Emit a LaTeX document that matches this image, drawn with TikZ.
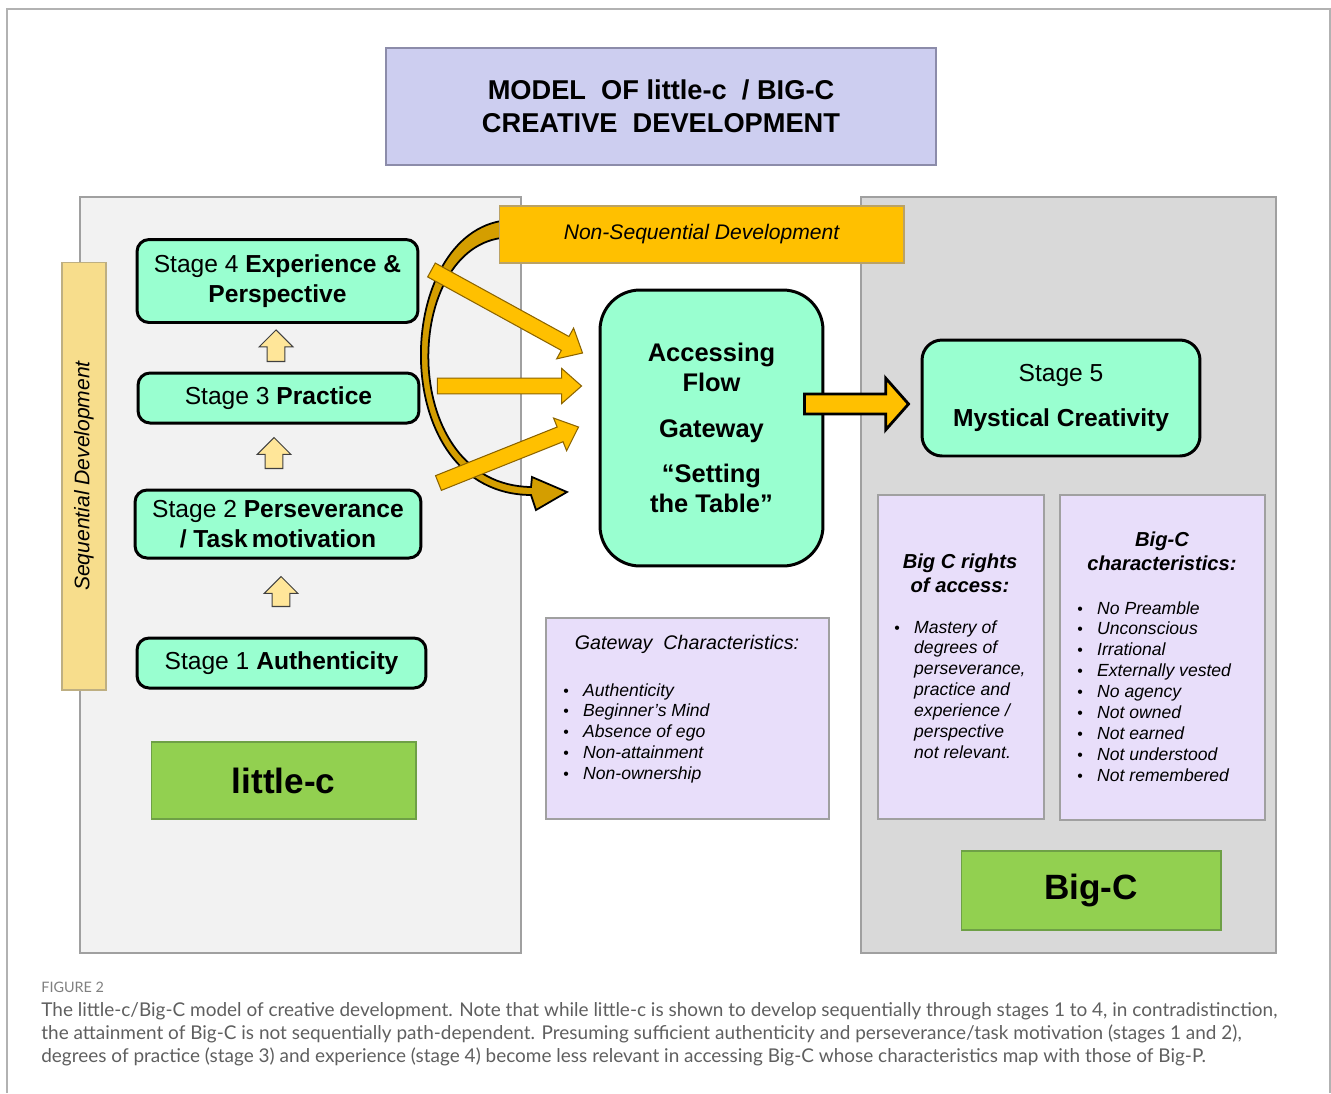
\documentclass[tikz,border=0pt]{standalone}
\usepackage{fontspec}
\setmainfont{Liberation Sans}
\newfontfamily\capfont{Lato}
\usetikzlibrary{calc}
\definecolor{mint}{RGB}{153,255,208}
\definecolor{gold}{RGB}{255,192,0}
\definecolor{goldedge}{RGB}{140,100,0}
\definecolor{darkgold}{RGB}{212,158,0}
\definecolor{paleyellow}{RGB}{255,230,153}
\definecolor{sand}{RGB}{247,221,140}
\definecolor{sandedge}{RGB}{190,175,130}
\definecolor{lilac}{RGB}{232,222,250}
\definecolor{periwinkle}{RGB}{205,206,240}
\definecolor{periedge}{RGB}{140,140,170}
\definecolor{leaf}{RGB}{146,208,80}
\definecolor{leafedge}{RGB}{110,160,70}
\definecolor{panellight}{RGB}{242,242,242}
\definecolor{paneldark}{RGB}{217,217,217}
\definecolor{edgegray}{RGB}{160,160,160}
\definecolor{framegray}{RGB}{178,178,178}
\definecolor{captiongray}{RGB}{95,95,95}

% block arrow: [style]{from}{to}{half shaft}{half head}{head length}
\newcommand{\blockarrow}[6][]{%
  \coordinate (hb) at ($(#3)!#6!(#2)$);
  \draw[#1] ($(#2)!#4!90:(#3)$) -- ($(hb)!#4!90:(#3)$) -- ($(hb)!#5!90:(#3)$) -- (#3)
    -- ($(hb)!#5!-90:(#3)$) -- ($(hb)!#4!-90:(#3)$) -- ($(#2)!#4!-90:(#3)$) -- cycle;}
\newcommand{\lbullet}{\makebox[11.3pt][l]{\upshape\small\textbullet}}

\begin{document}
\begin{tikzpicture}[x=0.02cm, y=-0.02cm, every node/.style={inner sep=0pt},
  panel/.style={draw=edgegray, line width=0.8pt},
  stagebox/.style={draw=black, line width=1.7pt, fill=mint, rounded corners=0.24cm, align=center, font=\fontsize{14}{17}\selectfont},
  infobox/.style={draw=edgegray, line width=0.7pt, fill=lilac},
  levelbox/.style={draw=leafedge, line width=0.6pt, fill=leaf, font=\fontsize{20}{24}\selectfont\bfseries},
  listtext/.style={anchor=base west, font=\fontsize{10}{11.9}\selectfont\itshape},
  headtext/.style={anchor=base, font=\fontsize{11.5}{14.2}\selectfont\bfseries\itshape},
  flowarrow/.style={draw=goldedge, fill=gold, line width=0.6pt, line join=miter},
  steparrow/.style={draw=black!75, fill=paleyellow, line width=0.6pt, line join=miter}]
\useasboundingbox (0,0) rectangle (1331,1093);
% frame
\draw[framegray, line width=1.2pt] (7,1093) -- (7,9) -- (1330,9) -- (1330,1093);

% panels
\node[panel, fill=panellight, minimum width=8.82cm, minimum height=15.12cm] (littlepanel) at (300.5,575) {};
\node[panel, fill=paneldark, minimum width=8.3cm, minimum height=15.12cm] (bigpanel) at (1068.5,575) {};

% title
\node[draw=periedge, line width=0.8pt, fill=periwinkle, minimum width=11cm, minimum height=2.34cm, align=center, font=\fontsize{15.5}{18.7}\selectfont\bfseries] (title) at (661,106.5) {MODEL\ \ OF little-c\ \ / BIG-C\\CREATIVE\ \ DEVELOPMENT};

% curved arrow behind the non-sequential label
\draw[black, line width=1pt, fill=darkgold, line join=miter]
  (501,221) .. controls (392,240) and (387,494) .. (531,495)
  -- (536,510) -- (567,492) -- (532,477) -- (531,487)
  .. controls (398,485) and (401,252) .. (501,238) -- cycle;
\node[draw=goldedge!60, line width=0.6pt, fill=gold, minimum width=8.1cm, minimum height=1.14cm, font=\fontsize{12}{14}\selectfont\itshape] (nonseq) at (701.5,234.5) {Non-Sequential Development};
\node[draw=sandedge, line width=0.6pt, fill=sand, rotate=90, minimum width=8.56cm, minimum height=0.88cm, font=\fontsize{12}{14}\selectfont\itshape] (seqdev) at (84,476) {Sequential Development};

% stages
\node[stagebox, minimum width=5.62cm, minimum height=1.66cm] (s4) at (277.5,281) {Stage 4 \textbf{Experience \&}\\\textbf{Perspective}};
\node[stagebox, minimum width=5.62cm, minimum height=1cm] (s3) at (278.5,398) {Stage 3 \textbf{Practice}};
\node[stagebox, minimum width=5.72cm, minimum height=1.36cm] (s2) at (278,524) {Stage 2 \textbf{Perseverance}\\\textbf{/ Task\,motivation}};
\node[stagebox, minimum width=5.78cm, minimum height=1cm] (s1) at (281.5,663) {Stage 1 \textbf{Authenticity}};
\node[levelbox, minimum width=5.3cm, minimum height=1.54cm] (littlec) at (283.5,780.5) {little-c};

\coordinate (u1t) at ($(s3.north)+(-2.5,-10)$);
\coordinate (u1h) at ($(s4.south)+(-1.5,6)$);
\coordinate (u2t) at ($(s2.north)+(-4,-20)$);
\coordinate (u2h) at ($(s3.south)+(-4.5,13)$);
\coordinate (u3t) at ($(s1.north)+(-0.5,-30)$);
\coordinate (u3h) at ($(s2.south)+(3,17)$);
\blockarrow[steparrow]{u1t}{u1h}{5.1pt}{9.6pt}{9.6pt}
\blockarrow[steparrow]{u2t}{u2h}{5.1pt}{9.6pt}{9.6pt}
\blockarrow[steparrow]{u3t}{u3h}{5.1pt}{9.6pt}{9.6pt}

% gateway
\node[draw=black, line width=1.7pt, fill=mint, rounded corners=0.8cm, minimum width=4.46cm, minimum height=5.52cm, align=center, font=\fontsize{14.5}{17}\selectfont\bfseries] (gateway) at (711.5,428) {Accessing\\Flow\\[9pt]Gateway\\[9pt]“Setting\\the Table”};

\coordinate (a4t) at ($(s4.east)+(12,-11)$);
\coordinate (a4h) at ($(gateway.west)+(-16,-75)$);
\coordinate (a3t) at ($(s3.east)+(17,-12)$);
\coordinate (a3h) at ($(gateway.west)+(-17,-42)$);
\coordinate (a2t) at ($(s2.east)+(16,-41)$);
\coordinate (a2h) at ($(gateway.west)+(-20,-1)$);
\blockarrow[flowarrow]{a4t}{a4h}{4.5pt}{10pt}{11.3pt}
\blockarrow[flowarrow]{a3t}{a3h}{4.5pt}{10pt}{11.3pt}
\blockarrow[flowarrow]{a2t}{a2h}{4.5pt}{10pt}{11.3pt}

% stage 5
\node[stagebox, rounded corners=0.4cm, minimum width=5.56cm, minimum height=2.32cm] (s5) at (1061,398) {Stage 5\\[9pt]\textbf{Mystical Creativity}};
\coordinate (g5t) at ($(gateway.east)+(-20,-24)$);
\coordinate (g5h) at ($(s5.west)+(-12,6)$);
\blockarrow[draw=black, fill=gold, line width=1.6pt, line join=miter]{g5t}{g5h}{5.7pt}{14.7pt}{13pt}

% characteristics
\node[infobox, minimum width=5.66cm, minimum height=4.02cm] (gatechar) at (687.5,718.5) {};
\node[anchor=base, font=\fontsize{11.2}{13}\selectfont\itshape] (gatehead) at (687,649) {Gateway\ \ Characteristics:};
\node[listtext] (gatelist) at (563,696) {\begin{tabular}[t]{@{}l@{}l@{}}
\lbullet & Authenticity\\ \lbullet & Beginner’s\ Mind\\ \lbullet & Absence of ego\\
\lbullet & Non-attainment\\ \lbullet & Non-ownership\end{tabular}};

\node[infobox, minimum width=3.32cm, minimum height=6.48cm] (rights) at (961,657) {};
\node[headtext] (rightshead) at (960,568) {\begin{tabular}[t]{@{}c@{}}Big C rights\\of access:\end{tabular}};
\node[listtext] (rightslist) at (894,633) {\begin{tabular}[t]{@{}l@{}l@{}}
\lbullet & Mastery\ of\\ & degrees\ of\\ & perseverance,\\ & practice and\\
& experience /\\ & perspective\\ & not relevant.\end{tabular}};

\node[infobox, minimum width=4.1cm, minimum height=6.5cm] (bigchar) at (1162.5,657.5) {};
\node[headtext] (bighead) at (1162,546) {\begin{tabular}[t]{@{}c@{}}Big-C\\characteristics:\end{tabular}};
\node[listtext] (biglist) at (1077,614) {\begin{tabular}[t]{@{}l@{}l@{}}
\lbullet & No Preamble\\ \lbullet & Unconscious\\ \lbullet & Irrational\\
\lbullet & Externally\ vested\\ \lbullet & No agency\\ \lbullet & Not owned\\
\lbullet & Not earned\\ \lbullet & Not understood\\ \lbullet & Not remembered\end{tabular}};

\node[levelbox, minimum width=5.2cm, minimum height=1.58cm] (bigc) at (1091,890.5) {Big-C};

% caption
\node[anchor=base west, text=captiongray!80, font=\capfont\fontsize{8.2}{9}\selectfont] (fig) at (41,992) {FIGURE 2};
\node[anchor=base west, text=captiongray, font=\capfont\fontsize{10.8}{13.3}\selectfont] (caption) at (41,1016) {\begin{tabular}[t]{@{}l@{}}
The little-c/Big-C model of creative development. Note that while little-c is shown to develop sequentially through stages 1 to 4, in contradistinction,\\
the attainment of Big-C is not sequentially path-dependent. Presuming sufficient authenticity and perseverance/task motivation (stages 1 and 2),\\
degrees of practice (stage 3) and experience (stage 4) become less relevant in accessing Big-C whose characteristics map with those of Big-P.\end{tabular}};
\end{tikzpicture}
\end{document}
